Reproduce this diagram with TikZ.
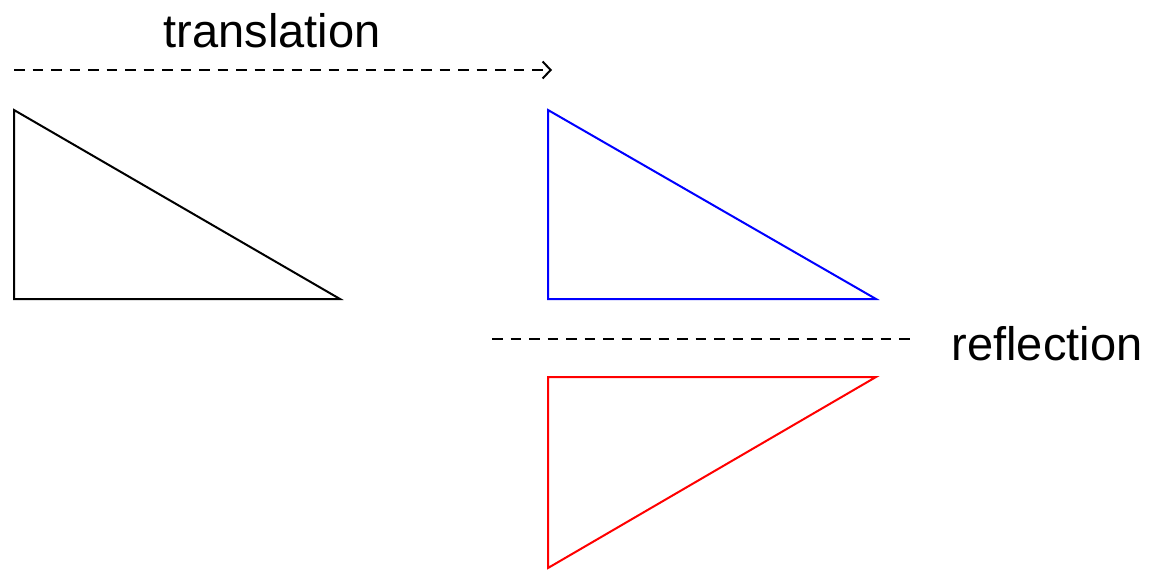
\documentclass[tikz,border=0pt]{standalone}
\usepackage{fontspec}
\setmainfont{Liberation Sans}
\usetikzlibrary{arrows.meta}
\begin{document}
\begin{tikzpicture}[x=1pt,y=-1pt,
  tri/.style={line width=2pt,line join=miter},
  dashln/.style={line width=2.2pt,dash pattern=on 10.5pt off 8pt},
  lbl/.style={font=\fontsize{47}{56}\selectfont,inner sep=0pt}]
\useasboundingbox (0,0) rectangle (1149,572);
% black triangle
\draw[tri,black] (14,110) -- (14,299) -- (340,299) -- cycle;
% blue triangle
\draw[tri,blue] (548,110) -- (548,299) -- (876,299) -- cycle;
% red triangle
\draw[tri,red] (548,377) -- (876,377) -- (548,568) -- cycle;
% translation arrow
\coordinate (ts) at (14,70);
\coordinate (te) at (552,70);
\draw[dashln,-{Straight Barb[length=8pt,width=17pt,line width=2pt]}] (ts) -- (te);
\node[lbl] (tl) at (272,31) {translation};
% reflection line
\coordinate (rs) at (492,339);
\coordinate (re) at (912,339);
\draw[dashln] (rs) -- (re);
\node[lbl] (rl) at (1047,344) {reflection};
\end{tikzpicture}
\end{document}
